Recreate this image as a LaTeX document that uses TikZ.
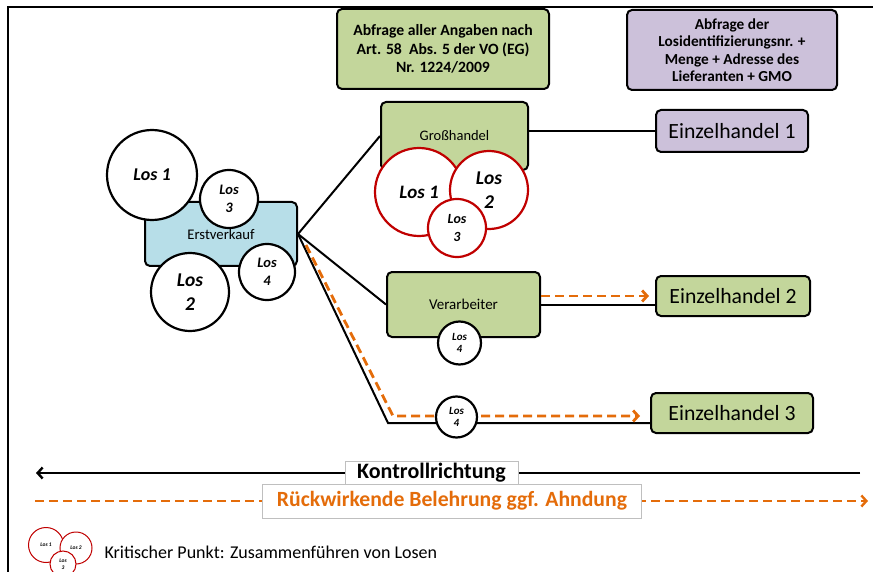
\documentclass[tikz,border=0pt]{standalone}
\usepackage{fontspec}
\setmainfont{Carlito}
\usetikzlibrary{arrows.meta, calc}
\definecolor{gruen}{HTML}{C3D69B}
\definecolor{lila}{HTML}{CCC1DA}
\definecolor{hellblau}{HTML}{B7DEE8}
\definecolor{rueck}{HTML}{E46C0A}
\definecolor{rot}{HTML}{C00000}
\tikzset{
    kasten/.style={draw=black, line width=2pt, rounded corners=5pt,
        inner sep=0pt, align=center}, % box with rounded corners
    los/.style={circle, draw=black, line width=2.2pt, fill=white,
        inner sep=0pt, align=center, font=\bfseries\itshape}, % one lot
    loskrit/.style={los, draw=rot}, % lots that get merged
    verbindung/.style={line width=2pt},
    rueckpfeil/.style={draw=rueck, line width=2.8pt,
        dash pattern=on 9pt off 5pt,
        -{Straight Barb[length=5pt, width=11pt]}}, % dashed orange arrow
    schild/.style={draw=black!25, line width=0.7pt, fill=white,
        inner sep=0pt, font=\bfseries}, % label on the long arrows
}
\newcommand{\fs}[1]{\fontsize{#1}{1.22\dimexpr #1pt\relax}\selectfont}

\begin{document}
\begin{tikzpicture}[x=1pt, y=-1pt]
    \useasboundingbox (0,0) rectangle (873,572);
    \draw[line width=2.4pt] (8,572) -- (8,7) -- (873,7);

    % info boxes at the top
    \node[kasten, fill=gruen, minimum width=212pt, minimum height=80pt,
        font=\bfseries\fontsize{15.7}{18.5}\selectfont] (abfrage1) at (443,49)
        {Abfrage aller Angaben nach\\Art. 58~~Abs. 5 der VO (EG)\\Nr. 1224/2009};
    \node[kasten, fill=lila, minimum width=210pt, minimum height=80pt,
        font=\bfseries\fontsize{15.3}{17.5}\selectfont] (abfrage2) at (732,50)
        {Abfrage der\\Losidentifizierungsnr. +\\Menge + Adresse des\\Lieferanten + GMO};

    % chain nodes
    \coordinate (knick) at (388,423);
    \node[kasten, fill=hellblau, minimum width=152pt, minimum height=64pt,
        font=\fs{14.7}] (erst) at (221,234) {Erstverkauf};
    \node[kasten, fill=gruen, minimum width=147pt, minimum height=68pt,
        font=\fs{14.5}] (gross) at (454.5,136) {Großhandel};
    \node[kasten, fill=gruen, minimum width=153pt, minimum height=65pt,
        font=\fs{15}] (verarb) at (463.5,304.5) {Verarbeiter};
    \node[kasten, fill=lila, minimum width=152pt, minimum height=42pt,
        font=\fs{21.7}] (einz1) at (732,131) {Einzelhandel 1};
    \node[kasten, fill=gruen, minimum width=154pt, minimum height=40pt,
        font=\fs{21.7}] (einz2) at (733,296) {Einzelhandel 2};
    \node[kasten, fill=gruen, minimum width=162pt, minimum height=40pt,
        font=\fs{21.7}] (einz3) at (732,413) {Einzelhandel 3};

    \draw[verbindung] (erst.east) -- (gross.west);
    \draw[verbindung] (erst.east) -- (verarb.west);
    \draw[verbindung] (erst.east) -- (knick) -- (knick -| einz3.west);
    \draw[verbindung] (gross.east |- einz1.west) -- (einz1.west);
    \draw[verbindung] (verarb.east) -- (verarb.east -| einz2.west);

    \draw[rueckpfeil] ($(erst.east)+(8,11)$) -- ($(knick)+(5,-7)$)
        -- ($(knick -| einz3.west)+(-10,-7)$);
    \draw[rueckpfeil] (verarb.east |- einz2.west) -- ($(einz2.west)+(-6,0)$);

    % lots
    \node[los, minimum size=90pt, font=\bfseries\itshape\fs{18}] (los1) at (152,175) {Los 1};
    \node[los, minimum size=58pt, font=\bfseries\itshape\fs{14.5}] (los3) at (229,199) {Los\\3};
    \node[los, minimum size=78pt, font=\bfseries\itshape\fs{19.5}] (los2) at (190,292) {Los\\2};
    \node[los, minimum size=56pt, font=\bfseries\itshape\fs{14.5}] (los4) at (267,272) {Los\\4};
    \node[loskrit, minimum size=88pt, font=\bfseries\itshape\fs{19}] (krit1) at (419,192) {Los 1};
    \node[loskrit, minimum size=78pt, font=\bfseries\itshape\fs{19.5}] (krit2) at (489,190) {Los\\2};
    \node[loskrit, minimum size=58pt, font=\bfseries\itshape\fs{14}] (krit3) at (457,228) {Los\\3};
    \node[los, minimum size=43pt, font=\bfseries\itshape\fontsize{11}{12}\selectfont] (los4v) at (459.5,343) {Los\\4};
    \node[los, minimum size=41pt, font=\bfseries\itshape\fontsize{11}{12}\selectfont] (los4e) at (456.5,417) {Los\\4};

    % direction arrows at the bottom
    \coordinate (krechts) at (860,473);
    \coordinate (klinks) at (36,473);
    \draw[line width=2.4pt, -{Straight Barb[length=5pt, width=11pt]}] (krechts) -- (klinks);
    \node[schild, minimum width=173pt, minimum height=24pt, font=\bfseries\fs{22}]
        (kontroll) at (431.5,473) {Kontrollrichtung};
    \coordinate (rlinks) at (35,501);
    \coordinate (rrechts) at (868,501);
    \draw[rueckpfeil, line width=2.4pt] (rlinks) -- (rrechts);
    \node[schild, minimum width=379pt, minimum height=34pt, text=rueck,
        font=\bfseries\fs{21.7}] (belehrung) at (452,501)
        {Rückwirkende Belehrung ggf. Ahndung};

    % legend
    \node[loskrit, line width=1pt, minimum size=35pt, font=\bfseries\itshape\fs{5.5}] (leg1) at (46,545) {Los 1};
    \node[loskrit, line width=1pt, minimum size=32pt, font=\bfseries\itshape\fs{5.5}] (leg2) at (76,548) {Los 2};
    \node[loskrit, line width=1pt, minimum size=26pt, font=\bfseries\itshape\fs{5.5}] (leg3) at (63,564) {Los\\3};
    \node[anchor=west, font=\fs{18}] (legtext) at (101,552)
        {Kritischer Punkt: Zusammenführen von Losen};
\end{tikzpicture}
\end{document}
